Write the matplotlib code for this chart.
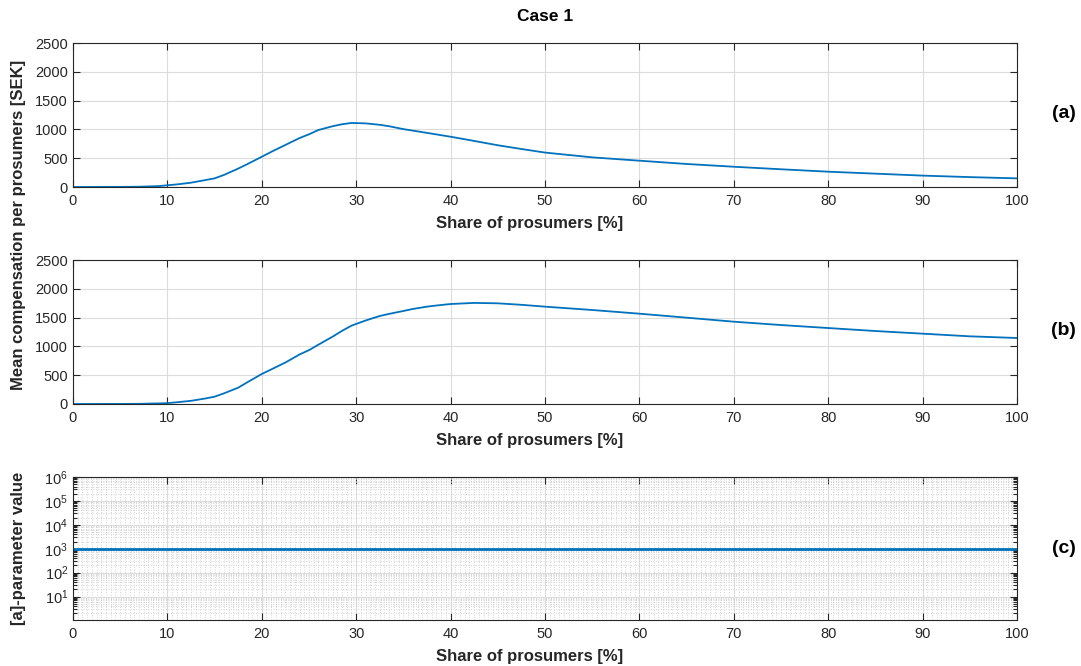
"""Case 1: ersättning per prosument och a-parameter mot andel prosumenter."""
import matplotlib
matplotlib.use("Agg")
import matplotlib.pyplot as plt
from matplotlib.ticker import MultipleLocator, LogLocator, NullFormatter, FixedLocator

plt.rcParams["font.family"] = ["Liberation Sans", "DejaVu Sans"]

# --- data ---
share_a = [0, 5, 7, 9, 10, 11, 12.5, 14, 15, 16, 17.5, 18.5, 20, 21, 22.5, 24, 25,
           26, 27.5, 28.5, 29.5, 31, 32.5, 33.5, 35, 37.5, 40, 42.5, 45, 47.5, 50,
           55, 60, 65, 70, 75, 80, 85, 90, 95, 100]
comp_a = [0, 2, 5, 15, 30, 45, 75, 120, 150, 210, 320, 400, 525, 610, 730, 850, 915,
          990, 1055, 1090, 1112, 1105, 1080, 1055, 1005, 940, 873, 800, 725, 660, 598,
          515, 457, 400, 352, 308, 266, 232, 198, 172, 150]

share_b = [0, 5, 7, 9, 10, 11, 12.5, 14, 15, 16, 17.5, 18.5, 20, 21, 22.5, 24, 25,
           26, 27.5, 28.5, 29.5, 31, 32.5, 33.5, 35, 36, 37.5, 38.5, 40, 42.5, 45,
           47.5, 50, 55, 60, 65, 70, 75, 80, 85, 90, 95, 100]
comp_b = [0, 1, 3, 10, 15, 30, 55, 95, 127, 185, 283, 380, 521, 600, 720, 860, 935,
          1030, 1169, 1270, 1360, 1450, 1528, 1565, 1615, 1650, 1690, 1710, 1736, 1755,
          1748, 1722, 1690, 1632, 1568, 1499, 1429, 1371, 1319, 1267, 1221, 1175, 1146]

share_c = [0, 100]
a_param = [1000, 1000]

LINE = "#0072BD"
DARK = "#262626"

fig = plt.figure(figsize=(10.81, 6.66), dpi=100)
fig.patch.set_facecolor("white")

ax_a = fig.add_axes([0.0675, 0.7192, 0.8733, 0.2162])
ax_b = fig.add_axes([0.0675, 0.3934, 0.8733, 0.2162])
ax_c = fig.add_axes([0.0675, 0.0691, 0.8733, 0.2147])


def style(ax):
    for s in ax.spines.values():
        s.set_color(DARK)
        s.set_linewidth(0.8)
    ax.tick_params(which="both", direction="in", top=True, right=True,
                   colors=DARK, labelsize=10.5, width=0.8)
    ax.tick_params(which="major", length=5)
    ax.tick_params(axis="x", which="major", pad=5)
    ax.set_xlim(0, 100)
    ax.xaxis.set_major_locator(MultipleLocator(10))
    ax.grid(True, which="major", color="#dcdcdc", linewidth=0.8)
    ax.set_axisbelow(True)
    ax.set_xlabel("Share of prosumers [%]", fontsize=12, fontweight="bold",
                  color=DARK)
    ax.xaxis.set_label_coords(0.484, -0.2)


for ax, x, y in [(ax_a, share_a, comp_a), (ax_b, share_b, comp_b)]:
    ax.plot(x, y, color=LINE, linewidth=1.3)
    style(ax)
    ax.set_ylim(0, 2500)
    ax.yaxis.set_major_locator(MultipleLocator(500))

# log panel
ax_c.plot(share_c, a_param, color=LINE, linewidth=2.0)
ax_c.set_yscale("log")
style(ax_c)
ax_c.set_ylim(1.05, 1e6)
ax_c.yaxis.set_major_locator(FixedLocator([1e1, 1e2, 1e3, 1e4, 1e5, 1e6]))
ax_c.yaxis.set_minor_locator(LogLocator(base=10, subs=range(2, 10), numticks=20))
ax_c.yaxis.set_minor_formatter(NullFormatter())
ax_c.xaxis.set_minor_locator(MultipleLocator(0.5))
ax_c.tick_params(axis="x", which="minor", length=0)
ax_c.tick_params(axis="y", which="minor", length=3)
ax_c.grid(True, which="minor", color="#c8c8c8", linewidth=0.6, linestyle=(0, (1, 2)))

# labels
fig.text(0.5042, 0.975, "Case 1", ha="center", va="center", fontsize=12.5,
         fontweight="bold", color="black")
fig.text(0.017, 0.662, "Mean compensation per prosumers [SEK]", rotation=90,
         ha="center", va="center", fontsize=12, fontweight="bold", color=DARK)
fig.text(0.017, 0.177, "[a]-parameter value", rotation=90,
         ha="center", va="center", fontsize=12, fontweight="bold", color=DARK)
for lbl, yy in [("(a)", 0.830), ("(b)", 0.504), ("(c)", 0.176)]:
    fig.text(0.984, yy, lbl, ha="center", va="center", fontsize=14,
             fontweight="bold", color="black")

fig.savefig("out.png", dpi=100, facecolor="white")
plt.close(fig)
